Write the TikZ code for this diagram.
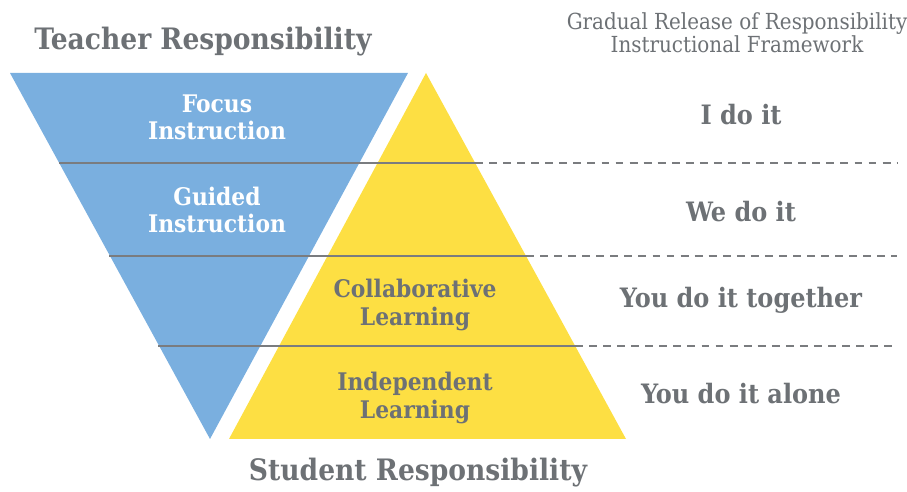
\documentclass[tikz,border=0pt]{standalone}
\usepackage{fontspec}
\setmainfont{DejaVu Serif Condensed}
\definecolor{teacherblue}{HTML}{7AAFDF}
\definecolor{studentyellow}{HTML}{FDDF43}
\definecolor{labelgray}{HTML}{6D7175}
\definecolor{rulegray}{HTML}{7A7C7F}

\begin{document}
\begin{tikzpicture}[x=0.02cm,y=-0.02cm,
  heading/.style={text=labelgray,font=\bfseries\fontsize{16.8}{18}\selectfont},
  title/.style={text=labelgray,align=center,font=\fontsize{12.6}{13.2}\selectfont},
  stage/.style={text=labelgray,font=\bfseries\fontsize{15.2}{16}\selectfont},
  inner/.style={align=center,font=\bfseries\fontsize{13.8}{15.4}\selectfont},
  solidrule/.style={rulegray,line width=0.9pt},
  dashrule/.style={rulegray,line width=0.8pt,dash pattern=on 4.5pt off 3.5pt}]
\useasboundingbox (0,0) rectangle (907,492);

% the two triangles
\fill[teacherblue] (10,73) -- (408,73) -- (210,439) -- cycle;
\fill[studentyellow] (426,73) -- (626,439) -- (229,439) -- cycle;

% level lines, solid across the triangles and dashed on the right
\draw[solidrule] (59,163) -- (475,163);
\draw[dashrule] (475,163) -- (897,163);
\draw[solidrule] (109,256) -- (526,256);
\draw[dashrule] (526,256) -- (897,256);
\draw[solidrule] (158,346) -- (575,346);
\draw[dashrule] (575,346) -- (897,346);

\node[heading] (teacher) at (203,42) {Teacher Responsibility};
\node[heading] (student) at (418,473) {Student Responsibility};
\node[title] (grr) at (737,33) {Gradual Release of Responsibility\\Instructional Framework};

\node[inner,text=white] (focus) at (217,117) {Focus\\Instruction};
\node[inner,text=white] (guided) at (217,210) {Guided\\Instruction};
\node[inner,text=labelgray] (collab) at (415,305) {Collaborative\\Learning};
\node[inner,text=labelgray] (indep) at (415,398) {Independent\\Learning};

\node[stage] (ido) at (741,115) {I do it};
\node[stage] (wedo) at (741,212) {We do it};
\node[stage] (together) at (741,300) {You do it together};
\node[stage] (alone) at (741,394) {You do it alone};
\end{tikzpicture}
\end{document}
